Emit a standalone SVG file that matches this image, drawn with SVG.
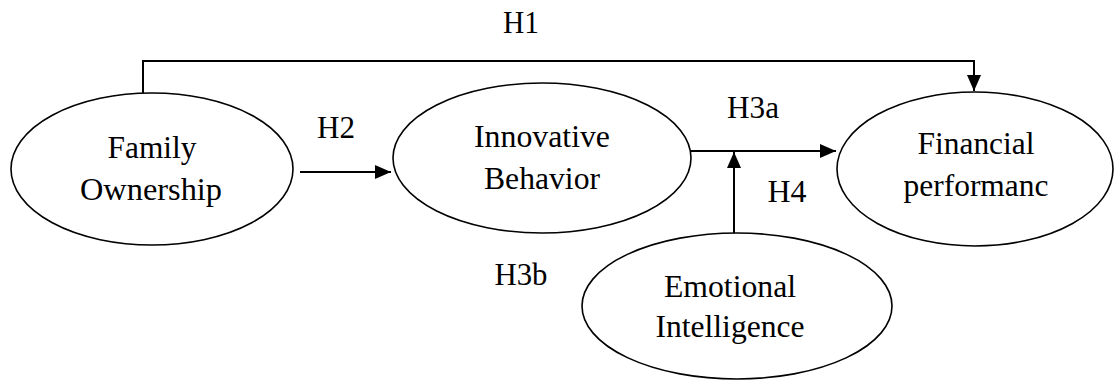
<svg xmlns="http://www.w3.org/2000/svg" width="1115" height="381" viewBox="0 0 1115 381">
<style>
.node{fill:#fff;stroke:#000;stroke-width:1.6}
.t{font-family:"Liberation Serif","Times New Roman",Times,serif;font-size:31px;fill:#000;text-anchor:middle}
.c{fill:none;stroke:#000;stroke-width:2}
</style>
<defs>
<marker id="ah" markerUnits="userSpaceOnUse" markerWidth="18" markerHeight="14" refX="16" refY="7" orient="auto">
<path d="M0,0 L16,7 L0,14 z" fill="#000"/>
</marker>
</defs>
<g id="connectors">
<polyline class="c" points="143,93 143,61 974,61 974,91" marker-end="url(#ah)"/>
<line class="c" x1="300" y1="172" x2="391" y2="172" marker-end="url(#ah)"/>
<line class="c" x1="691" y1="151" x2="836" y2="151" marker-end="url(#ah)"/>
<line class="c" x1="734" y1="233" x2="734" y2="152" marker-end="url(#ah)"/>
</g>
<g id="labels">
<text class="t" x="521" y="33" textLength="36" lengthAdjust="spacingAndGlyphs">H1</text>
<text class="t" x="336" y="138" textLength="38" lengthAdjust="spacingAndGlyphs">H2</text>
<text class="t" x="753" y="118" textLength="52" lengthAdjust="spacingAndGlyphs">H3a</text>
<text class="t" x="787" y="202" textLength="39" lengthAdjust="spacingAndGlyphs">H4</text>
<text class="t" x="521" y="285" textLength="53" lengthAdjust="spacingAndGlyphs">H3b</text>
</g>
<g id="family-ownership">
<ellipse class="node" cx="152" cy="169" rx="141" ry="76"/>
<text class="t" x="152" y="158" textLength="89" lengthAdjust="spacingAndGlyphs">Family</text>
<text class="t" x="151" y="200" textLength="142" lengthAdjust="spacingAndGlyphs">Ownership</text>
</g>
<g id="innovative-behavior">
<ellipse class="node" cx="542" cy="158" rx="149" ry="75"/>
<text class="t" x="542" y="147" textLength="136" lengthAdjust="spacingAndGlyphs">Innovative</text>
<text class="t" x="542" y="189" textLength="116" lengthAdjust="spacingAndGlyphs">Behavior</text>
</g>
<g id="financial-performance">
<ellipse class="node" cx="975" cy="169" rx="138" ry="77"/>
<text class="t" x="976" y="154" textLength="117" lengthAdjust="spacingAndGlyphs">Financial</text>
<text class="t" x="976" y="196" textLength="145" lengthAdjust="spacingAndGlyphs">performanc</text>
</g>
<g id="emotional-intelligence">
<ellipse class="node" cx="737" cy="306" rx="155" ry="73"/>
<text class="t" x="730" y="297" textLength="132" lengthAdjust="spacingAndGlyphs">Emotional</text>
<text class="t" x="730" y="337" textLength="149" lengthAdjust="spacingAndGlyphs">Intelligence</text>
</g>
</svg>
